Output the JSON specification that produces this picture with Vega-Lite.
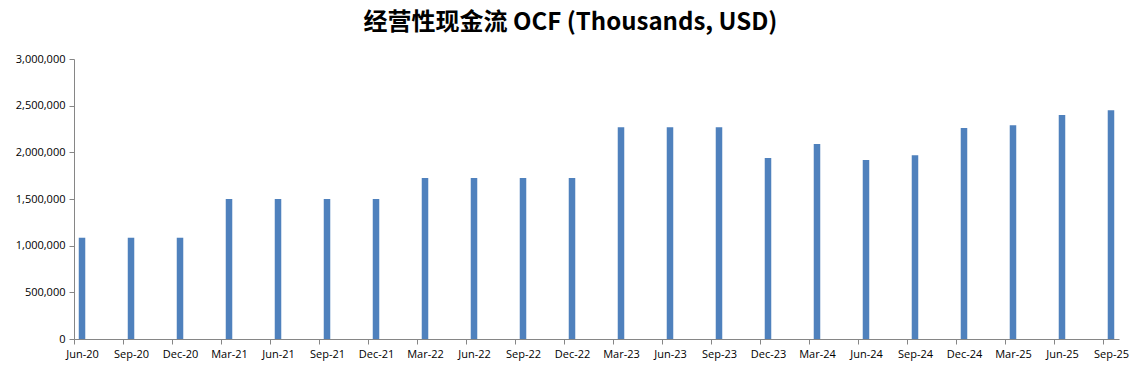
{
  "$schema": "https://vega.github.io/schema/vega-lite/v6.json",
  "width": 1045,
  "height": 280,
  "autosize": {"type": "none"},
  "padding": {"left": 74, "top": 59, "right": 22, "bottom": 32},
  "background": "white",
  "title": {
    "text": "经营性现金流 OCF (Thousands, USD)",
    "font": "Noto Sans CJK SC",
    "fontSize": 24,
    "fontWeight": "bold",
    "color": "#000000",
    "anchor": "middle",
    "dx": -26,
    "offset": 18
  },
  "data": {
    "values": [
      {"quarter": "Jun-20", "ocf": 1085000},
      {"quarter": "Sep-20", "ocf": 1085000},
      {"quarter": "Dec-20", "ocf": 1085000},
      {"quarter": "Mar-21", "ocf": 1500000},
      {"quarter": "Jun-21", "ocf": 1500000},
      {"quarter": "Sep-21", "ocf": 1500000},
      {"quarter": "Dec-21", "ocf": 1500000},
      {"quarter": "Mar-22", "ocf": 1725000},
      {"quarter": "Jun-22", "ocf": 1725000},
      {"quarter": "Sep-22", "ocf": 1725000},
      {"quarter": "Dec-22", "ocf": 1725000},
      {"quarter": "Mar-23", "ocf": 2270000},
      {"quarter": "Jun-23", "ocf": 2270000},
      {"quarter": "Sep-23", "ocf": 2270000},
      {"quarter": "Dec-23", "ocf": 1940000},
      {"quarter": "Mar-24", "ocf": 2090000},
      {"quarter": "Jun-24", "ocf": 1917000},
      {"quarter": "Sep-24", "ocf": 1970000},
      {"quarter": "Dec-24", "ocf": 2260000},
      {"quarter": "Mar-25", "ocf": 2290000},
      {"quarter": "Jun-25", "ocf": 2400000},
      {"quarter": "Sep-25", "ocf": 2450000}
    ]
  },
  "mark": {"type": "bar", "color": "#4F81BD"},
  "encoding": {
    "x": {
      "field": "quarter",
      "type": "ordinal",
      "sort": null,
      "scale": {"paddingInner": 0.867, "paddingOuter": 0.097},
      "axis": {
        "title": null,
        "labelAngle": 0,
        "tickOffset": -8,
        "labelOffset": 8,
        "domainColor": "#868686",
        "tickColor": "#868686",
        "tickSize": 5,
        "labelFont": "Open Sans",
        "labelFontSize": 11,
        "labelColor": "#000000",
        "labelPadding": 4,
        "grid": false
      }
    },
    "y": {
      "field": "ocf",
      "type": "quantitative",
      "scale": {"domain": [0, 3000000], "nice": false},
      "axis": {
        "title": null,
        "values": [0, 500000, 1000000, 1500000, 2000000, 2500000, 3000000],
        "format": ",.0f",
        "grid": false,
        "domainColor": "#868686",
        "tickColor": "#868686",
        "tickSize": 5,
        "labelFont": "Open Sans",
        "labelFontSize": 11,
        "labelColor": "#000000",
        "labelPadding": 4
      }
    }
  },
  "config": {"view": {"stroke": null}}
}
